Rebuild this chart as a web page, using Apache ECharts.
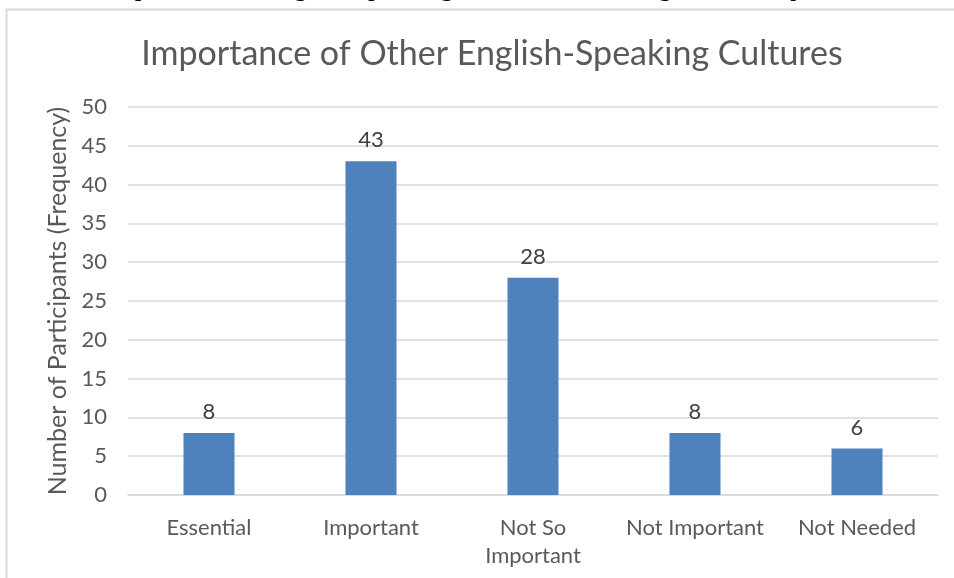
<!DOCTYPE html>
<html>
<head>
<meta charset="utf-8">
<script src="https://cdn.jsdelivr.net/npm/echarts@6/dist/echarts.min.js"></script>
<style>
  html, body { margin: 0; padding: 0; background: #ffffff; }
  #chart { width: 954px; height: 578px; }
</style>
</head>
<body>
<div id="chart"></div>
<script>
// Survey responses: how important other English-speaking cultures are
const categories = ['Essential', 'Important', 'Not So\nImportant', 'Not Important', 'Not Needed'];
const frequencies = [8, 43, 28, 8, 6];
const yTicks = [0, 5, 10, 15, 20, 25, 30, 35, 40, 45, 50];

const chart = echarts.init(document.getElementById('chart'));

const labelFont = 'Lato, "Open Sans", sans-serif';

chart.setOption({
  animation: false,
  backgroundColor: '#ffffff',
  graphic: [
    {
      type: 'text',
      left: -2,
      top: -26,
      style: {
        text: 'Table 12. Importance of English Speaking Cultures. Percentages and Frequencies',
        font: '27px "Liberation Serif", "DejaVu Serif", serif',
        fill: '#000000'
      },
      z: 10
    },
    {
      type: 'rect',
      shape: { x: 6.5, y: 9.5, width: 1000, height: 700 },
      style: { fill: 'none', stroke: '#d9d9d9', lineWidth: 2 },
      z: 5
    }
  ],
  title: {
    text: 'Importance of Other English-Speaking Cultures',
    left: 487,
    top: 32,
    textAlign: 'center',
    textStyle: {
      fontFamily: labelFont,
      fontSize: 34,
      fontWeight: 'normal',
      color: '#595959'
    }
  },
  grid: { left: 128, right: 16, top: 107, bottom: 83, containLabel: false },
  xAxis: {
    type: 'category',
    data: categories,
    axisLine: { lineStyle: { color: '#d9d9d9', width: 1.5 } },
    axisTick: { show: false },
    axisLabel: {
      fontFamily: labelFont,
      fontSize: 22,
      color: '#595959',
      margin: 19,
      lineHeight: 28,
      interval: 0
    }
  },
  yAxis: {
    type: 'value',
    min: yTicks[0],
    max: yTicks[yTicks.length - 1],
    interval: yTicks[1] - yTicks[0],
    name: 'Number of Participants (Frequency)',
    nameLocation: 'middle',
    nameGap: 56,
    nameTextStyle: {
      fontFamily: labelFont,
      fontSize: 25,
      color: '#595959'
    },
    axisLine: { show: false },
    axisTick: { show: false },
    axisLabel: {
      fontFamily: labelFont,
      fontSize: 22,
      color: '#595959',
      margin: 21
    },
    splitLine: { lineStyle: { color: '#d9d9d9', width: 1.5 } }
  },
  series: [
    {
      type: 'bar',
      data: frequencies,
      barWidth: '31.5%',
      itemStyle: { color: '#4f81bd' },
      label: {
        show: true,
        position: 'top',
        distance: 10,
        fontFamily: labelFont,
        fontSize: 22,
        color: '#404040'
      }
    }
  ]
});
</script>
</body>
</html>
